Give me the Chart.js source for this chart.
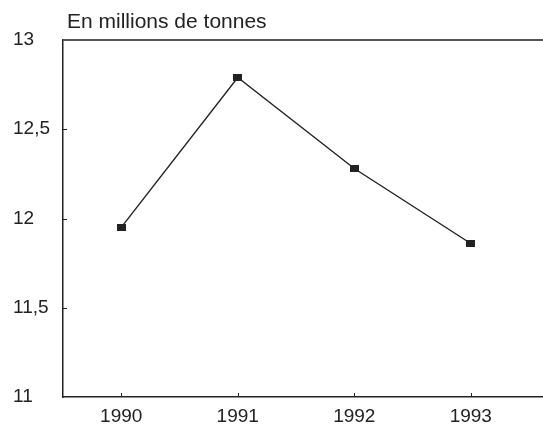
<!DOCTYPE html>
<html>
<head>
<meta charset="utf-8">
<script src="https://cdn.jsdelivr.net/npm/chart.js@4"></script>
<style>
html,body{margin:0;padding:0;background:#fff;overflow:hidden;}
canvas{display:block;}
</style>
</head>
<body>
<canvas id="c" width="543" height="426"></canvas>
<script>
const years = [1990, 1991, 1992, 1993];
const values = [11.95, 12.79, 12.28, 11.86];
const yTicks = [11, 11.5, 12, 12.5, 13];
const unitLabel = "En millions de tonnes";

const FONT = "'Liberation Sans', Arial, sans-serif";
const INK = '#222';

const marker = document.createElement('canvas');
marker.width = 9; marker.height = 7;
(function(){ const g = marker.getContext('2d'); g.fillStyle = INK; g.fillRect(0,0,9,7); })();

const framePlugin = {
  id: 'frame',
  afterDraw(chart) {
    const ctx = chart.ctx, a = chart.chartArea;
    const xs = chart.scales.x, ys = chart.scales.y;
    ctx.save();
    ctx.strokeStyle = '#555';
    ctx.lineWidth = 2;
    ctx.beginPath(); ctx.moveTo(a.left, a.top); ctx.lineTo(chart.width, a.top); ctx.stroke();
    ctx.strokeStyle = INK;
    ctx.lineWidth = 1;
    ctx.beginPath();
    xs.ticks.forEach(t => {
      const px = Math.round(xs.getPixelForValue(t.value)) + 0.5;
      ctx.moveTo(px, a.bottom); ctx.lineTo(px, a.bottom - 4);
    });
    ys.ticks.forEach(t => {
      if (t.value <= ys.min || t.value >= ys.max) return;
      const py = Math.round(ys.getPixelForValue(t.value)) + 0.5;
      ctx.moveTo(a.left, py); ctx.lineTo(a.left + 4, py);
    });
    ctx.stroke();
    ctx.fillStyle = INK;
    ctx.font = '21px ' + FONT;
    ctx.textAlign = 'left';
    ctx.textBaseline = 'alphabetic';
    ctx.fillText(unitLabel, a.left + 4, a.top - 12);
    ctx.restore();
  }
};

new Chart(document.getElementById('c'), {
  type: 'line',
  data: {
    datasets: [{
      data: years.map((y, i) => ({x: y, y: values[i]})),
      borderColor: INK,
      borderWidth: 1.4,
      pointStyle: marker,
      pointRadius: 5,
      tension: 0,
      clip: false
    }]
  },
  options: {
    responsive: false,
    animation: false,
    devicePixelRatio: 1,
    layout: { autoPadding: false, padding: { top: 40, left: 13, right: 0, bottom: 0 } },
    plugins: { legend: { display: false }, tooltip: { enabled: false }, title: { display: false } },
    scales: {
      x: {
        type: 'linear',
        min: 1989.5,
        max: 1993.62,
        afterBuildTicks(scale) { scale.ticks = years.map(v => ({value: v})); },
        afterFit(scale) { scale.height = 29; scale.paddingRight = 0; scale.paddingLeft = 0; },
        grid: { display: false, drawTicks: false },
        border: { display: true, color: INK, width: 1.5 },
        ticks: { color: INK, font: { family: FONT, size: 19 }, padding: 8, callback: v => String(v) }
      },
      y: {
        min: 11,
        max: 13,
        afterBuildTicks(scale) { scale.ticks = yTicks.map(v => ({value: v})); },
        afterFit(scale) { scale.width = 50; scale.paddingTop = 0; scale.paddingBottom = 0; },
        grid: { display: false, drawTicks: false },
        border: { display: true, color: INK, width: 1.5 },
        ticks: {
          color: INK, font: { family: FONT, size: 19 }, padding: 11, crossAlign: 'far',
          callback: v => String(v).replace('.', ',')
        }
      }
    }
  },
  plugins: [framePlugin]
});
</script>
</body>
</html>
